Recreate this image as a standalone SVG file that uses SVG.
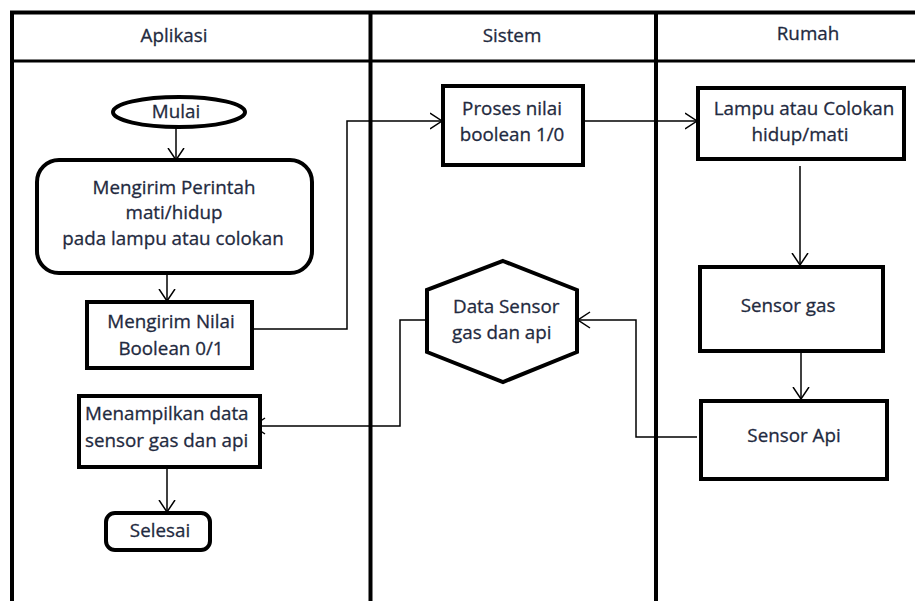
<svg xmlns="http://www.w3.org/2000/svg" width="915" height="601" viewBox="0 0 915 601">
<defs>
<style>
.lane{stroke:#000;stroke-width:4;fill:none}
.hdr{stroke:#000;stroke-width:3;fill:none}
.box{stroke:#000;stroke-width:4;fill:#fff}
.conn{stroke:#000;stroke-width:1.5;fill:none}
text{font-family:"Open Sans","Noto Sans","Liberation Sans",sans-serif;font-size:18.8px;fill:#1f2a40;stroke:#1f2a40;stroke-width:0.3}
.c{text-anchor:middle}
.s{text-anchor:start}
</style>
<marker id="arr" markerUnits="userSpaceOnUse" viewBox="0 0 13 18" refX="12.5" refY="9" markerWidth="13" markerHeight="18" orient="auto">
<path d="M0.5,1 L12.5,9 L0.5,17" fill="none" stroke="#000" stroke-width="1.5"/>
</marker>
</defs>
<rect width="915" height="601" fill="#fff"/>
<g id="swimlanes">
<line class="lane" x1="10" y1="12.5" x2="915" y2="12.5"/>
<line class="hdr" x1="12" y1="61" x2="915" y2="61"/>
<line class="lane" x1="12" y1="11" x2="12" y2="601"/>
<line class="lane" x1="370.5" y1="11" x2="370.5" y2="601"/>
<line class="lane" x1="656" y1="11" x2="656" y2="601"/>
<text class="c" x="174" y="42">Aplikasi</text>
<text class="c" x="512" y="42">Sistem</text>
<text class="c" x="808" y="40">Rumah</text>
</g>
<g id="connectors">
<line class="conn" x1="176" y1="127" x2="176" y2="160" marker-end="url(#arr)"/>
<line class="conn" x1="167" y1="273" x2="167" y2="301" marker-end="url(#arr)"/>
<polyline class="conn" points="252,329 347,329 347,121 442,121" marker-end="url(#arr)"/>
<line class="conn" x1="583" y1="121" x2="697" y2="121" marker-end="url(#arr)"/>
<line class="conn" x1="800" y1="166" x2="800" y2="265" marker-end="url(#arr)"/>
<line class="conn" x1="801" y1="347" x2="801" y2="399" marker-end="url(#arr)"/>
<polyline class="conn" points="697,437 636,437 636,320 578,320" marker-end="url(#arr)"/>
<polyline class="conn" points="430,320 400,320 400,426 253,426" marker-end="url(#arr)"/>
<line class="conn" x1="167" y1="467" x2="167" y2="512" marker-end="url(#arr)"/>
</g>
<g id="mulai">
<ellipse class="box" cx="179" cy="112" rx="66" ry="15"/>
<text class="c" x="176" y="118">Mulai</text>
</g>
<g id="mengirim-perintah">
<rect class="box" x="37" y="160" width="275" height="113" rx="22"/>
<text class="c" x="174" y="194">Mengirim Perintah</text>
<text class="c" x="174" y="219">mati/hidup</text>
<text class="c" x="173" y="245">pada lampu atau colokan</text>
</g>
<g id="mengirim-nilai">
<rect class="box" x="87" y="302" width="165" height="66"/>
<text class="c" x="171" y="328">Mengirim Nilai</text>
<text class="c" x="171" y="355">Boolean 0/1</text>
</g>
<g id="menampilkan">
<rect class="box" x="79" y="396" width="181" height="71"/>
<text class="s" x="85" y="420">Menampilkan data</text>
<text class="s" x="85" y="447">sensor gas dan api</text>
</g>
<g id="selesai">
<rect class="box" x="106" y="513" width="104" height="37" rx="9"/>
<text class="c" x="160" y="537">Selesai</text>
</g>
<g id="proses">
<rect class="box" x="443" y="86" width="140" height="79"/>
<text class="c" x="512" y="115">Proses nilai</text>
<text class="c" x="512" y="141">boolean 1/0</text>
</g>
<g id="data-sensor">
<polygon class="box" points="503,261 577,290 577,352 503,382 427,352 427,290"/>
<text class="s" x="453" y="313">Data Sensor</text>
<text class="s" x="452" y="339">gas dan api</text>
</g>
<g id="lampu">
<rect class="box" x="698" y="88" width="206" height="71"/>
<text class="c" x="804" y="115">Lampu atau Colokan</text>
<text class="c" x="800" y="141">hidup/mati</text>
</g>
<g id="sensor-gas">
<rect class="box" x="700" y="267" width="183" height="84"/>
<text class="c" x="788" y="312">Sensor gas</text>
</g>
<g id="sensor-api">
<rect class="box" x="701" y="401" width="186" height="78"/>
<text class="c" x="794" y="442">Sensor Api</text>
</g>
</svg>
